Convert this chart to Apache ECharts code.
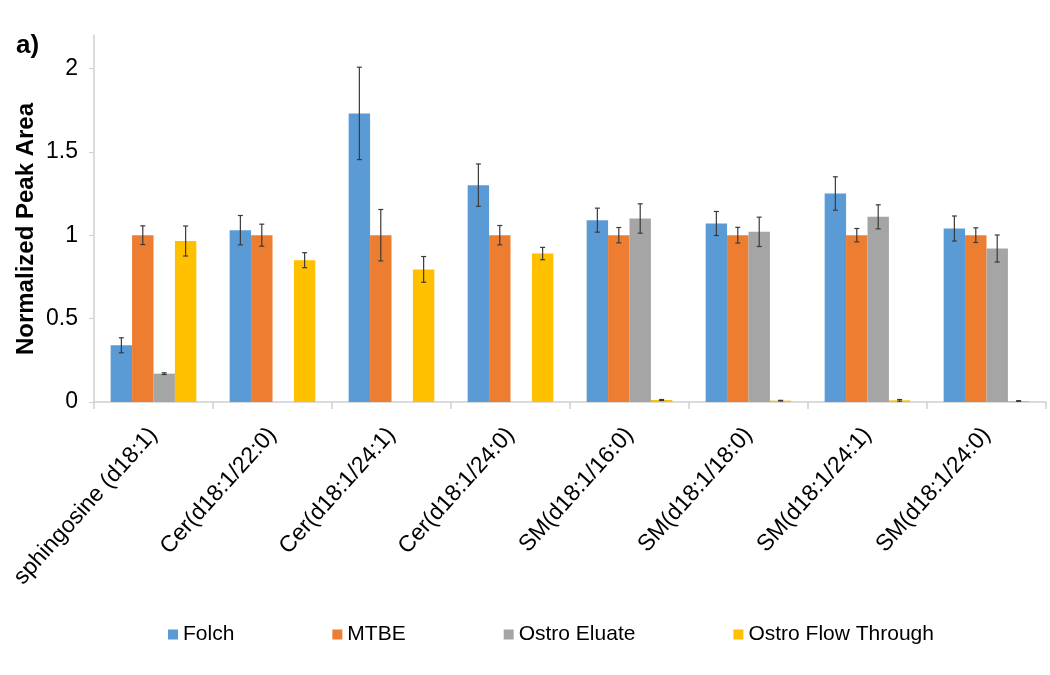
<!DOCTYPE html>
<html>
<head>
<meta charset="utf-8">
<script src="https://cdn.jsdelivr.net/npm/echarts@6/dist/echarts.min.js"></script>
<style>html,body{margin:0;padding:0;background:#fff}#c{width:1050px;height:675px}</style>
</head>
<body>
<div id="c"></div>
<script>
const categories = ['sphingosine (d18:1)', 'Cer(d18:1/22:0)', 'Cer(d18:1/24:1)', 'Cer(d18:1/24:0)', 'SM(d18:1/16:0)', 'SM(d18:1/18:0)', 'SM(d18:1/24:1)', 'SM(d18:1/24:0)'];
const seriesNames = ['Folch', 'MTBE', 'Ostro Eluate', 'Ostro Flow Through'];
const folch = [0.34, 1.03, 1.73, 1.30, 1.09, 1.07, 1.25, 1.04];
const folchErr = [0.045, 0.088, 0.277, 0.127, 0.072, 0.072, 0.10, 0.075];
const mtbe = [1.0, 1.0, 1.0, 1.0, 1.0, 1.0, 1.0, 1.0];
const mtbeErr = [0.056, 0.066, 0.154, 0.058, 0.046, 0.047, 0.04, 0.044];
const eluate = [0.17, null, null, null, 1.10, 1.02, 1.11, 0.92];
const eluateErr = [0.005, null, null, null, 0.088, 0.088, 0.072, 0.081];
const flow = [0.965, 0.85, 0.795, 0.89, 0.012, 0.008, 0.01, 0.006];
const flowErr = [0.09, 0.045, 0.077, 0.037, 0.003, 0.002, 0.005, 0.002];
const yTicks = [0, 0.5, 1, 1.5, 2];
const yTitle = 'Normalized Peak Area';

const colors = ['#5B9BD5', '#ED7D31', '#A5A5A5', '#FFC000'];
const values = [folch, mtbe, eluate, flow];
const errs = [folchErr, mtbeErr, eluateErr, flowErr];
const catGap = 0.28;

const series = [];
values.forEach((v, i) => {
  series.push({
    name: seriesNames[i], type: 'bar', data: v.map(x => x === null ? '-' : x),
    barGap: '0%', barCategoryGap: (catGap * 100) + '%',
    itemStyle: { color: colors[i] }, z: 2
  });
});
values.forEach((v, i) => {
  const d = [];
  v.forEach((x, k) => { if (x !== null && errs[i][k] !== null) d.push([k, x - errs[i][k], x + errs[i][k]]); });
  series.push({
    type: 'custom', name: seriesNames[i] + ' err', data: d, z: 5, silent: true,
    encode: { x: 0, y: [1, 2] },
    renderItem: function (params, api) {
      const k = api.value(0);
      const band = api.size([1, 0])[0];
      const bw = band * (1 - catGap) / 4;
      const c0 = api.coord([k, api.value(1)]);
      const c1 = api.coord([k, api.value(2)]);
      const x = c0[0] + (-1.5 + i) * bw;
      const cap = 2.5;
      const st = { stroke: '#3a3a3a', lineWidth: 1.2 };
      return { type: 'group', children: [
        { type: 'line', shape: { x1: x, y1: c0[1], x2: x, y2: c1[1] }, style: st },
        { type: 'line', shape: { x1: x - cap, y1: c0[1], x2: x + cap, y2: c0[1] }, style: st },
        { type: 'line', shape: { x1: x - cap, y1: c1[1], x2: x + cap, y2: c1[1] }, style: st }
      ]};
    }
  });
});

const FF = 'Liberation Sans, Arial, sans-serif';
const chart = echarts.init(document.getElementById('c'), null, { renderer: 'canvas' });
chart.setOption({
  animation: false,
  textStyle: { fontFamily: FF },
  color: colors,
  graphic: [
    { type: 'text', left: 16, top: 33, style: { text: 'a)', font: 'bold 26px ' + FF, fill: '#000' } },
    { type: 'text', x: 26, y: 229, rotation: Math.PI / 2,
      style: { text: yTitle, font: 'bold 24px ' + FF, fill: '#000', align: 'center', verticalAlign: 'middle' } }
  ],
  legend: {
    data: seriesNames, bottom: 25, left: 163, icon: 'rect', itemWidth: 10, itemHeight: 10, itemGap: 98,
    textStyle: { fontSize: 21, color: '#000', fontFamily: FF }
  },
  grid: { left: 94, right: 4, top: 35, bottom: 273, containLabel: false, outerBoundsMode: 'none' },
  xAxis: {
    type: 'category', data: categories,
    axisLine: { lineStyle: { color: '#d0d0d0', width: 1.5 } },
    axisTick: { show: true, length: 7, lineStyle: { color: '#d0d0d0', width: 1.5 } },
    axisLabel: { rotate: 48, fontSize: 23, color: '#000', margin: 29, interval: 0 }
  },
  yAxis: {
    type: 'value', min: 0, max: 2.2, interval: 0.5,
    axisLine: { show: true, lineStyle: { color: '#d0d0d0', width: 1.5 } },
    axisTick: { show: true, length: 5, lineStyle: { color: '#d0d0d0' } },
    splitLine: { show: false },
    axisLabel: { fontSize: 23, color: '#000', margin: 16, showMaxLabel: false,
      formatter: v => yTicks.indexOf(v) >= 0 ? String(v) : '' }
  },
  series: series
});
</script>
</body>
</html>
